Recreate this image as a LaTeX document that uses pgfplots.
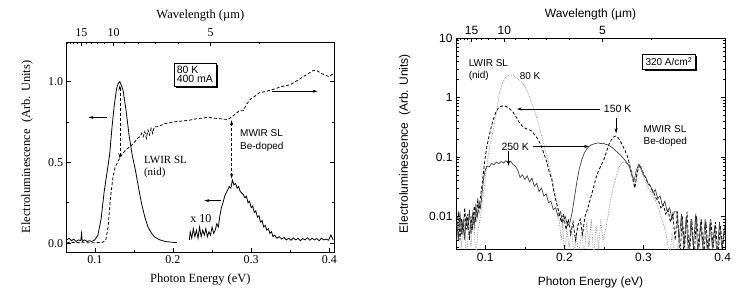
\documentclass[border=0pt]{standalone}
\usepackage{fontspec}
\setmainfont{Liberation Sans}
\newfontfamily\serif{Liberation Serif}
\usepackage{pgfplots}
\pgfplotsset{compat=1.18}
\usetikzlibrary{arrows.meta,shadows}

\newcommand\fs[1]{\fontsize{#1}{#1}\selectfont}

\pgfplotsset{
  common/.style={scale only axis, anchor=south west, tick align=inside,
    axis line style={line width=0.8pt}, major tick length=4pt, minor tick length=2.5pt,
    every tick/.style={black, line width=0.6pt}, clip=true},
  % top axis: photon energy ticks placed at 1.24/lambda
  wavetop/.style={common, axis x line*=top, axis y line=none, ymin=0, ymax=1,
    xtick={0.08267,0.124,0.248}, xticklabels={15,10,5},
    minor xtick={0.06526,0.06889,0.07294,0.0775,0.08857,0.09538,0.10333,0.11273,0.13778,0.155,0.17714,0.20667,0.31}},
}

\begin{document}
\begin{tikzpicture}[>={Stealth[length=5pt,width=3pt]}]
\useasboundingbox (0,0) rectangle (750pt,290pt);

% ---------------- left panel ----------------
\begin{axis}[common, at={(66.7pt,38pt)}, width=267.3pt, height=210pt,
  xmin=0.064, xmax=0.406, ymin=-0.055, ymax=1.245,
  xtick={0.1,0.2,0.3,0.4}, xticklabels={0.1,0.2,0.3,0.4}, minor x tick num=1,
  ytick={0,0.5,1}, yticklabels={0.0,0.5,1.0}, minor y tick num=1,
  xtick pos=bottom, ytick pos=both, yticklabel pos=left,
  ticklabel style={font=\serif\fs{12}},
  xlabel={Photon Energy (eV)}, ylabel={Electroluminescence\ \ (Arb. Units)},
  label style={font=\serif\fs{12.5}},
  xlabel style={at={(axis description cs:0.5,-0.133)}, anchor=center},
  ylabel style={at={(axis description cs:-0.1485,0.5)}, anchor=center},
]
% electroluminescence, LWIR part
\addplot[black, line width=0.8pt] coordinates {
(0.064,0.02)(0.067,0.03)(0.070,0.015)(0.073,0.025)(0.076,0.01)(0.079,0.02)(0.082,0.015)(0.083,0.06)(0.084,0.01)
(0.087,0.02)(0.090,0.01)(0.093,0.015)(0.096,0.01)(0.100,0.02)(0.104,0.05)(0.108,0.15)(0.112,0.32)(0.116,0.45)
(0.119,0.55)(0.122,0.72)(0.125,0.86)(0.128,0.96)(0.130,0.99)(0.132,1.0)(0.136,0.95)(0.140,0.82)(0.144,0.66)
(0.148,0.54)(0.152,0.45)(0.156,0.34)(0.160,0.24)(0.164,0.16)(0.168,0.10)(0.172,0.065)(0.176,0.04)(0.182,0.022)
(0.190,0.01)(0.200,0.005)(0.205,0.003)};
% electroluminescence, MWIR part (x 10)
\addplot[black, line width=0.8pt] coordinates {
(0.221,0.02)(0.222,0.07)(0.224,0.03)(0.226,0.09)(0.228,0.04)(0.230,0.08)(0.232,0.03)(0.234,0.10)(0.236,0.04)
(0.238,0.08)(0.240,0.05)(0.242,0.09)(0.244,0.04)(0.246,0.07)(0.248,0.05)(0.250,0.10)(0.252,0.06)(0.254,0.08)
(0.256,0.12)(0.258,0.10)(0.260,0.17)(0.262,0.22)(0.264,0.25)(0.266,0.29)(0.268,0.31)(0.270,0.33)(0.272,0.35)
(0.274,0.34)(0.276,0.39)(0.278,0.36)(0.280,0.37)(0.282,0.34)(0.284,0.35)(0.286,0.32)(0.288,0.31)(0.290,0.30)
(0.292,0.28)(0.294,0.29)(0.296,0.25)(0.298,0.26)(0.300,0.22)(0.302,0.23)(0.304,0.19)(0.306,0.20)(0.308,0.16)
(0.310,0.17)(0.312,0.13)(0.314,0.14)(0.316,0.10)(0.318,0.11)(0.320,0.08)(0.322,0.09)(0.324,0.06)(0.326,0.07)
(0.328,0.04)(0.330,0.05)(0.333,0.03)(0.336,0.04)(0.339,0.025)(0.342,0.035)(0.345,0.02)(0.348,0.03)(0.351,0.018)
(0.354,0.032)(0.357,0.02)(0.360,0.03)(0.363,0.015)(0.366,0.028)(0.369,0.02)(0.372,0.033)(0.375,0.018)(0.378,0.03)
(0.381,0.02)(0.384,0.028)(0.387,0.015)(0.390,0.03)(0.393,0.02)(0.396,0.025)(0.399,0.018)(0.402,0.05)(0.405,0.02)};
% photoresponse
\addplot[black, line width=0.8pt, dash pattern=on 3pt off 2pt] coordinates {
(0.064,0.005)(0.080,0.003)(0.100,0.002)(0.110,0.005)(0.114,0.02)(0.117,0.10)(0.120,0.28)(0.123,0.40)(0.126,0.47)
(0.130,0.51)(0.135,0.55)(0.140,0.58)(0.146,0.60)(0.150,0.62)(0.155,0.65)(0.158,0.66)(0.160,0.68)(0.162,0.66)
(0.164,0.69)(0.166,0.65)(0.168,0.70)(0.170,0.67)(0.172,0.71)(0.174,0.68)(0.176,0.72)(0.180,0.72)(0.185,0.73)
(0.190,0.74)(0.200,0.75)(0.210,0.755)(0.220,0.76)(0.230,0.77)(0.240,0.775)(0.245,0.78)(0.250,0.775)(0.260,0.77)
(0.270,0.765)(0.275,0.78)(0.280,0.80)(0.285,0.82)(0.290,0.82)(0.294,0.86)(0.300,0.895)(0.305,0.91)(0.310,0.93)
(0.320,0.94)(0.330,0.955)(0.340,0.97)(0.350,0.98)(0.360,1.01)(0.370,1.04)(0.380,1.07)(0.385,1.065)(0.390,1.05)
(0.395,1.04)(0.400,1.03)(0.405,1.05)};

\node[draw, fill=white, line width=0.5pt, align=left, inner sep=3pt, font=\fs{10.5},
  drop shadow={shadow xshift=2pt, shadow yshift=-2pt, fill=black, opacity=1}]
  at (axis cs:0.228,1.045) {80 K\\[-1pt]400 mA};
\draw[->, line width=0.6pt] (axis cs:0.116,0.778) -- (axis cs:0.092,0.778);
\draw[->, line width=0.6pt] (axis cs:0.327,0.94) -- (axis cs:0.385,0.94);
\draw[<->, line width=0.6pt, densely dashed] (axis cs:0.132,0.977) -- (axis cs:0.132,0.525);
\draw[<->, line width=0.6pt, densely dashed] (axis cs:0.275,0.761) -- (axis cs:0.275,0.40);
\draw[->, line width=0.6pt] (axis cs:0.261,0.263) -- (axis cs:0.240,0.263);
\node[anchor=west, align=left, font=\fs{10}, inner sep=0pt] at (axis cs:0.2857,0.633) {MWIR SL\\[3pt]Be-doped};
\node[anchor=west, align=left, font=\serif\fs{11}, inner sep=0pt] at (axis cs:0.1627,0.473) {LWIR SL\\[1pt](nid)};
\node[font=\serif\fs{12}] at (axis cs:0.2357,0.15) {x 10};
\node[rotate=90, font=\serif\fs{12.5}] at (axis description cs:1.085,0.5) {Photoresponse (Arb. Units)};
\end{axis}

\begin{axis}[wavetop, at={(66.7pt,38pt)}, width=267.3pt, height=210pt, xmin=0.064, xmax=0.406,
  ticklabel style={font=\serif\fs{12}}, xticklabel style={yshift=2pt},
  xlabel={Wavelength (µm)}, label style={font=\serif\fs{12.5}},
  xlabel style={at={(axis description cs:0.5,1.126)}, anchor=center}]
\addplot[draw=none] coordinates {(0.1,0.5)};
\end{axis}

% ---------------- right panel ----------------
\begin{axis}[common, at={(456pt,40.7pt)}, width=269pt, height=211.3pt,
  xmin=0.063, xmax=0.403, ymode=log, ymin=0.0028, ymax=10,
  xtick={0.1,0.2,0.3,0.4}, xticklabels={0.1,0.2,0.3,0.4}, minor x tick num=1,
  ytick={0.01,0.1,1,10}, yticklabels={0.01,0.1,1,10},
  minor ytick={0.003,0.004,0.005,0.006,0.007,0.008,0.009,0.02,0.03,0.04,0.05,0.06,0.07,0.08,0.09,
    0.2,0.3,0.4,0.5,0.6,0.7,0.8,0.9,2,3,4,5,6,7,8,9},
  xtick pos=bottom, ytick pos=both, yticklabel pos=left,
  ticklabel style={font=\fs{12}},
  xlabel={Photon Energy (eV)}, ylabel={Electroluminescence\ \ (Arb. Units)},
  label style={font=\fs{12}},
  xlabel style={at={(axis description cs:0.5,-0.155)}, anchor=center},
  ylabel style={at={(axis description cs:-0.19,0.5)}, anchor=center},
]
% 80 K
\addplot[black!45, line width=0.7pt, densely dotted] coordinates {
(0.064,0.004)(0.067,0.008)(0.070,0.003)(0.073,0.010)(0.076,0.002)(0.079,0.006)(0.082,0.003)(0.085,0.012)
(0.088,0.002)(0.091,0.006)(0.094,0.010)(0.097,0.020)(0.100,0.045)(0.103,0.09)(0.106,0.16)(0.110,0.28)
(0.114,0.55)(0.118,1.2)(0.122,1.8)(0.126,2.2)(0.130,2.4)(0.134,2.35)(0.138,2.2)(0.142,2.0)(0.146,1.8)
(0.150,1.55)(0.154,1.2)(0.158,0.85)(0.162,0.6)(0.166,0.42)(0.170,0.26)(0.174,0.16)(0.178,0.10)(0.182,0.06)
(0.186,0.035)(0.190,0.018)(0.193,0.010)(0.196,0.004)(0.198,0.008)(0.200,0.002)(0.203,0.006)(0.206,0.003)
(0.209,0.007)(0.212,0.002)(0.215,0.005)(0.218,0.002)(0.222,0.006)(0.225,0.002)(0.228,0.008)(0.231,0.003)
(0.234,0.009)(0.237,0.002)(0.240,0.007)(0.243,0.003)(0.246,0.008)(0.249,0.004)(0.252,0.006)(0.255,0.010)
(0.258,0.018)(0.262,0.032)(0.266,0.05)(0.270,0.07)(0.274,0.083)(0.278,0.08)(0.282,0.068)(0.286,0.055)
(0.289,0.03)(0.292,0.05)(0.295,0.07)(0.298,0.055)(0.302,0.04)(0.306,0.03)(0.310,0.025)(0.314,0.02)
(0.318,0.015)(0.322,0.010)(0.326,0.007)(0.330,0.004)(0.333,0.002)(0.336,0.005)(0.340,0.002)(0.345,0.004)(0.350,0.002)};
% 150 K
\addplot[black, line width=0.8pt, dash pattern=on 3pt off 2pt] coordinates {
(0.064,0.006)(0.066,0.012)(0.068,0.004)(0.070,0.009)(0.072,0.005)(0.074,0.014)(0.076,0.006)(0.078,0.011)
(0.080,0.004)(0.082,0.010)(0.084,0.006)(0.086,0.015)(0.088,0.008)(0.090,0.018)(0.092,0.012)(0.094,0.022)
(0.096,0.035)(0.098,0.06)(0.100,0.10)(0.102,0.15)(0.104,0.20)(0.107,0.30)(0.110,0.42)(0.113,0.55)(0.116,0.65)
(0.119,0.70)(0.123,0.73)(0.127,0.70)(0.131,0.64)(0.135,0.57)(0.139,0.47)(0.143,0.38)(0.147,0.33)(0.151,0.30)
(0.155,0.29)(0.159,0.27)(0.163,0.23)(0.167,0.195)(0.171,0.15)(0.175,0.105)(0.178,0.08)(0.181,0.055)(0.184,0.042)
(0.187,0.025)(0.190,0.017)(0.193,0.012)(0.196,0.008)(0.199,0.011)(0.202,0.006)(0.205,0.009)(0.208,0.005)
(0.211,0.008)(0.214,0.004)(0.217,0.007)(0.220,0.009)(0.223,0.005)(0.226,0.010)(0.229,0.013)(0.232,0.018)
(0.235,0.025)(0.238,0.035)(0.241,0.05)(0.244,0.062)(0.247,0.075)(0.250,0.09)(0.253,0.12)(0.256,0.16)
(0.259,0.19)(0.262,0.215)(0.265,0.225)(0.268,0.21)(0.271,0.18)(0.274,0.15)(0.277,0.125)(0.280,0.10)
(0.283,0.07)(0.286,0.045)(0.289,0.03)(0.292,0.055)(0.295,0.075)(0.298,0.06)(0.301,0.05)(0.304,0.04)
(0.307,0.035)(0.310,0.03)(0.313,0.025)(0.316,0.02)(0.319,0.018)(0.322,0.014)(0.325,0.016)(0.328,0.011)
(0.331,0.013)(0.334,0.008)(0.337,0.011)(0.340,0.004)(0.343,0.012)(0.346,0.002)(0.349,0.010)(0.352,0.003)
(0.355,0.012)(0.358,0.002)(0.361,0.009)(0.364,0.002)(0.367,0.010)(0.370,0.003)(0.373,0.009)(0.376,0.002)
(0.379,0.008)(0.382,0.002)(0.385,0.009)(0.388,0.003)(0.391,0.008)(0.394,0.002)(0.397,0.007)(0.400,0.003)(0.403,0.007)};
% 250 K
\addplot[black!75, line width=0.7pt] coordinates {
(0.064,0.008)(0.066,0.004)(0.068,0.012)(0.070,0.005)(0.072,0.009)(0.074,0.004)(0.076,0.010)(0.078,0.006)
(0.080,0.013)(0.082,0.005)(0.084,0.011)(0.086,0.007)(0.088,0.015)(0.090,0.010)(0.092,0.018)(0.094,0.014)
(0.096,0.025)(0.098,0.045)(0.100,0.06)(0.102,0.07)(0.105,0.068)(0.108,0.078)(0.111,0.074)(0.114,0.082)
(0.117,0.077)(0.120,0.084)(0.123,0.079)(0.126,0.086)(0.129,0.08)(0.132,0.085)(0.135,0.075)(0.138,0.07)
(0.141,0.06)(0.144,0.045)(0.147,0.05)(0.150,0.042)(0.153,0.048)(0.156,0.038)(0.159,0.044)(0.162,0.032)
(0.165,0.036)(0.168,0.026)(0.171,0.03)(0.174,0.022)(0.177,0.024)(0.180,0.017)(0.183,0.018)(0.186,0.013)
(0.189,0.014)(0.192,0.010)(0.195,0.012)(0.198,0.008)(0.201,0.010)(0.204,0.007)(0.207,0.008)(0.210,0.012)
(0.213,0.022)(0.216,0.04)(0.219,0.065)(0.222,0.09)(0.225,0.115)(0.228,0.135)(0.231,0.15)(0.234,0.16)
(0.237,0.165)(0.240,0.17)(0.243,0.172)(0.246,0.168)(0.249,0.17)(0.252,0.163)(0.255,0.16)(0.258,0.15)
(0.261,0.142)(0.264,0.13)(0.267,0.12)(0.270,0.11)(0.273,0.10)(0.276,0.09)(0.279,0.08)(0.282,0.07)
(0.285,0.05)(0.288,0.04)(0.291,0.06)(0.294,0.075)(0.297,0.065)(0.300,0.05)(0.303,0.045)(0.306,0.035)
(0.309,0.032)(0.312,0.025)(0.315,0.028)(0.318,0.02)(0.321,0.022)(0.324,0.015)(0.327,0.018)(0.330,0.012)
(0.333,0.014)(0.336,0.009)(0.339,0.012)(0.342,0.012)(0.345,0.004)(0.348,0.011)(0.351,0.003)(0.354,0.010)
(0.357,0.002)(0.360,0.009)(0.363,0.003)(0.366,0.011)(0.369,0.002)(0.372,0.008)(0.375,0.003)(0.378,0.009)
(0.381,0.002)(0.384,0.008)(0.387,0.003)(0.390,0.007)(0.393,0.002)(0.396,0.008)(0.399,0.003)(0.402,0.006)};

\node[draw, fill=white, line width=0.5pt, inner sep=3pt, font=\fs{10},
  drop shadow={shadow xshift=2pt, shadow yshift=-2pt, fill=black, opacity=1}]
  at (axis cs:0.332,4.02) {320 A/cm\textsuperscript{2}};
\node[anchor=west, align=left, font=\fs{10}, inner sep=0pt] at (axis cs:0.0789,2.9) {LWIR SL\\[2pt](nid)};
\node[font=\fs{10}, inner sep=0pt] at (axis cs:0.1566,2.25) {80 K};
\node[font=\fs{10.5}, inner sep=0pt] at (axis cs:0.2673,0.64) {150 K};
\draw[->, line width=0.6pt] (axis cs:0.2452,0.64) -- (axis cs:0.14,0.64);
\draw[->, line width=0.6pt] (axis cs:0.2654,0.45) -- (axis cs:0.2654,0.25);
\node[font=\fs{10.5}, inner sep=0pt] at (axis cs:0.1379,0.15) {250 K};
\draw[->, line width=0.6pt] (axis cs:0.1606,0.15) -- (axis cs:0.2313,0.15);
\draw[->, line width=0.6pt] (axis cs:0.1294,0.124) -- (axis cs:0.1294,0.071);
\node[anchor=west, align=left, font=\fs{10}, inner sep=0pt] at (axis cs:0.2999,0.221) {MWIR SL\\[2pt]Be-doped};
\end{axis}

\begin{axis}[wavetop, at={(456pt,40.7pt)}, width=269pt, height=211.3pt, xmin=0.063, xmax=0.403,
  ticklabel style={font=\fs{12}},
  xlabel={Wavelength (µm)}, label style={font=\fs{12}},
  xlabel style={at={(axis description cs:0.5,1.114)}, anchor=center}]
\addplot[draw=none] coordinates {(0.1,0.5)};
\end{axis}
\end{tikzpicture}
\end{document}
